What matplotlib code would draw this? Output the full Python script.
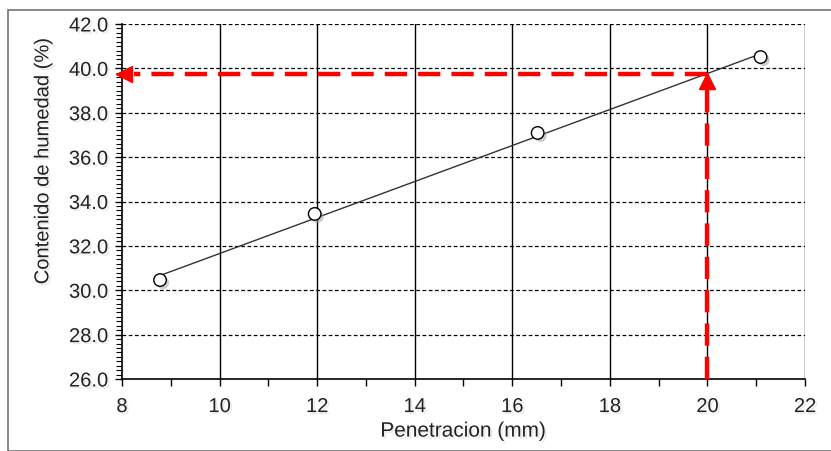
import matplotlib.pyplot as plt
import matplotlib.patheffects as pe
import numpy as np
from matplotlib.ticker import MultipleLocator

plt.rcParams['font.family'] = ['Liberation Sans', 'DejaVu Sans']

# ensayo de penetracion: penetracion (mm) vs contenido de humedad (%)
penetracion = [8.78, 11.95, 16.52, 21.09]
humedad = [30.46, 33.44, 37.09, 40.51]
pen_objetivo = 20.0

# recta de ajuste por minimos cuadrados
m, b = np.polyfit(penetracion, humedad, 1)
x_fit = np.array([min(penetracion), max(penetracion)])
y_fit = m * x_fit + b
hum_objetivo = m * pen_objetivo + b

sombra = [pe.SimplePatchShadow(offset=(2, -2), shadow_rgbFace='0.6', alpha=0.5), pe.Normal()]
sombra_txt = [pe.withSimplePatchShadow(offset=(1.5, -1.5), shadow_rgbFace='0.85', alpha=0.5)]

fig = plt.figure(figsize=(8.31, 4.52), dpi=100)
ax = fig.add_axes([122 / 831, 1 - 380 / 452, 683 / 831, 355 / 452])

# marco exterior
fig.patches.append(plt.Rectangle((8 / 831, 0), 1, 1 - 11 / 452, transform=fig.transFigure,
                                 fill=False, edgecolor='0.45', linewidth=1.2))

ax.set_xlim(8, 22)
ax.set_ylim(26, 42)
ax.xaxis.set_major_locator(MultipleLocator(2))
ax.xaxis.set_minor_locator(MultipleLocator(1))
ax.yaxis.set_minor_locator(MultipleLocator(0.2))
ax.set_yticks(np.arange(26, 43, 2))
ax.set_yticklabels([f'{v:.1f}' for v in np.arange(26, 43, 2)])

ax.tick_params(axis='both', which='major', direction='out', length=5, width=1,
               labelsize=14.5, colors='black', labelcolor='#222222')
ax.tick_params(axis='x', which='major', pad=8)
ax.tick_params(axis='y', which='major', pad=5)
ax.tick_params(axis='x', which='minor', direction='out', length=5, width=1)
ax.tick_params(axis='y', which='minor', direction='out', length=4, width=0.8)
for lbl in ax.get_xticklabels() + ax.get_yticklabels():
    lbl.set_path_effects(sombra_txt)

for v in range(10, 23, 2):
    ax.axvline(v, color='black', linewidth=1, zorder=1)
for v in range(28, 43, 2):
    ax.axhline(v, color='black', linewidth=0.9, linestyle=(0, (3, 2)), zorder=1)

for s in ['top', 'right']:
    ax.spines[s].set_visible(False)
for s in ['left', 'bottom']:
    ax.spines[s].set_linewidth(1.2)

ax.plot(x_fit, y_fit, color='#333333', linewidth=1, zorder=3, path_effects=sombra)
ax.plot(penetracion, humedad, linestyle='none', marker='o', markersize=9,
        markerfacecolor='white', markeredgecolor='black', markeredgewidth=1, zorder=4,
        path_effects=sombra)

# lectura de humedad para 20 mm
ax.plot([pen_objetivo, pen_objetivo], [26, hum_objetivo - 0.3], color='red', linewidth=3.2,
        linestyle=(0, (5, 2.5)), zorder=5, clip_on=False)
ax.plot([pen_objetivo, 8.25], [hum_objetivo, hum_objetivo], color='red', linewidth=3.2,
        linestyle=(0, (5, 2.5)), zorder=5, clip_on=False)
ax.plot(pen_objetivo, hum_objetivo - 0.35, marker='^', markersize=12, color='red',
        linestyle='none', zorder=6)
ax.plot(8.05, hum_objetivo, marker='<', markersize=12, color='red',
        linestyle='none', zorder=6, clip_on=False)

ax.set_xlabel('Penetracion (mm)', fontsize=15, color='#222222', labelpad=4,
              path_effects=sombra_txt)
ax.set_ylabel('Contenido de humedad (%)', fontsize=14.5, color='#222222',
              path_effects=sombra_txt)
ax.yaxis.set_label_coords(-0.102, 0.614)

fig.savefig('out.png', dpi=100)
